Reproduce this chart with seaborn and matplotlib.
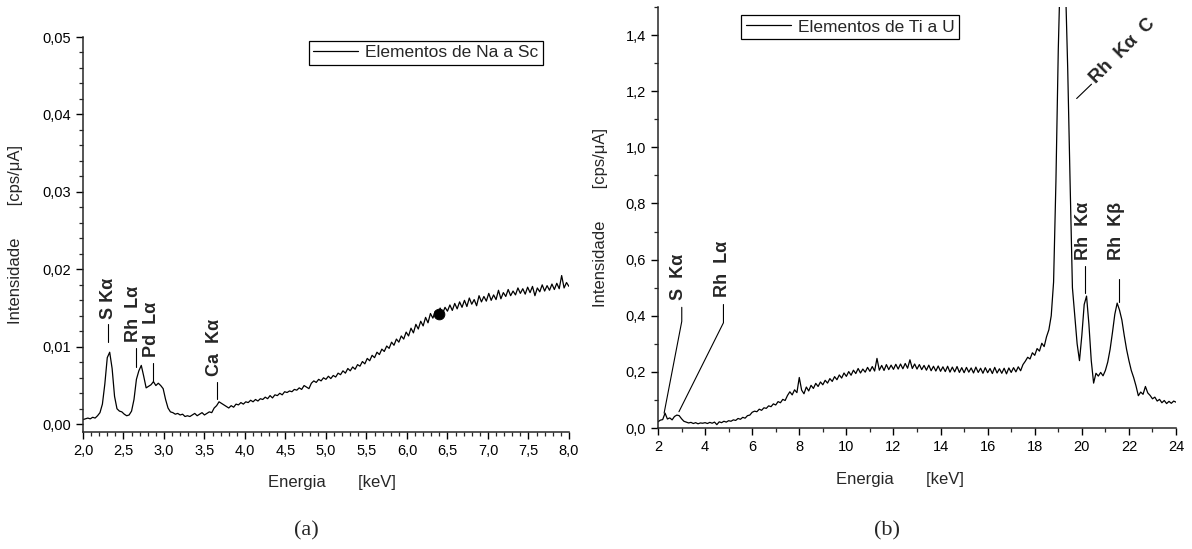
import numpy as np
import pandas as pd
import matplotlib
matplotlib.use("Agg")
import matplotlib.pyplot as plt
from matplotlib.ticker import MultipleLocator, FuncFormatter
import seaborn as sns

# ---------------- data: panel (a), Na..Sc, 2.00..8.00 keV step 0.03 ----------------
energy_a_start, energy_a_stop = 2.0, 8.0
intens_a_milli = [
    0.6, 0.7, 0.8, 0.7, 0.9, 0.8, 1.1, 1.5, 2.6, 5.2,
    8.6, 9.3, 7.2, 3.6, 2.0, 1.7, 1.6, 1.3, 1.1, 1.2,
    1.7, 3.2, 5.8, 6.9, 7.6, 6.2, 4.7, 4.9, 5.1, 5.5,
    5.0, 5.3, 5.0, 4.6, 3.2, 2.1, 1.6, 1.5, 1.3, 1.4,
    1.2, 1.3, 1.0, 1.1, 1.0, 1.2, 1.4, 1.1, 1.3, 1.5,
    1.2, 1.4, 1.6, 1.5, 2.1, 2.4, 2.9, 2.7, 2.5, 2.3,
    2.1, 2.4, 2.2, 2.6, 2.5, 2.8, 2.6, 2.9, 2.8, 3.1,
    2.9, 3.2, 3.0, 3.3, 3.2, 3.5, 3.3, 3.7, 3.4, 3.8,
    3.7, 4.0, 3.8, 4.2, 4.1, 4.3, 4.2, 4.5, 4.4, 4.7,
    4.5, 5.0, 4.8, 4.6, 5.3, 5.6, 5.4, 5.8, 5.6, 6.0,
    5.8, 6.2, 5.9, 6.3, 6.1, 6.6, 6.4, 6.9, 6.6, 7.2,
    6.9, 7.4, 7.1, 7.7, 7.5, 8.1, 7.8, 8.5, 8.2, 8.9,
    8.6, 9.3, 9.0, 9.7, 9.4, 10.1, 9.8, 10.6, 10.2, 11.0,
    10.6, 11.4, 11.0, 11.9, 11.4, 12.4, 11.8, 12.9, 12.3, 13.3,
    12.7, 13.8, 13.1, 14.3, 13.7, 14.6, 14.2, 15.0, 14.3, 15.1,
    14.6, 15.4, 14.7, 15.6, 14.9, 15.8, 15.1, 16.0, 15.2, 16.3,
    15.5, 16.1, 15.3, 16.6, 15.8, 16.5, 15.9, 16.9, 16.0, 16.7,
    16.1, 17.3, 16.2, 17.0, 16.5, 17.4, 16.6, 17.2, 16.7, 17.6,
    16.9, 17.5, 16.8, 17.7, 17.0, 17.8, 16.6, 17.6, 17.1, 18.0,
    17.2, 17.9, 17.3, 18.1, 17.4, 18.2, 17.5, 19.2, 17.6, 18.3,
    17.8,
]
dot_a_x = [6.39]
dot_a_y = [0.0143]

# ---------------- data: panel (b), Ti..U, 2.0..24.0 keV step 0.1 ----------------
energy_b_start, energy_b_stop = 2.0, 24.0
intens_b_centi = [
    2.2, 2.8, 3.0, 5.3, 3.2, 3.6, 2.9, 4.1, 4.6, 4.4,          # 2.x
    3.3, 2.4, 2.1, 1.8, 2.0, 1.6, 1.9, 1.5, 1.8, 1.7,          # 3.x
    1.9, 1.6, 2.0, 1.7, 2.1, 1.2, 2.2, 1.9, 2.4, 2.1,          # 4.x
    2.6, 2.4, 2.9, 2.7, 3.4, 3.1, 3.8, 3.5, 4.4, 4.6,          # 5.x
    5.6, 6.0, 5.8, 6.7, 6.3, 7.2, 7.0, 7.9, 7.6, 8.6,          # 6.x
    8.2, 9.4, 9.0, 10.2, 9.8, 11.6, 12.9, 11.8, 13.6, 12.6,    # 7.x
    18.0, 13.5, 12.2, 14.6, 13.2, 15.2, 14.1, 15.9, 14.8, 16.4,  # 8.x
    15.4, 17.0, 16.0, 17.6, 16.6, 18.3, 17.2, 18.9, 17.8, 19.6,  # 9.x
    18.4, 20.1, 18.8, 20.6, 19.4, 21.2, 19.6, 21.0, 19.9, 21.6,  # 10.x
    20.2, 21.9, 20.3, 24.8, 20.6, 22.3, 20.5, 22.6, 20.8, 22.4,  # 11.x
    20.9, 22.7, 21.0, 22.8, 21.1, 23.0, 21.3, 24.3, 21.2, 22.8,  # 12.x
    21.0, 22.6, 20.8, 22.3, 20.6, 22.4, 20.4, 22.0, 20.3, 22.1,  # 13.x
    20.2, 21.8, 20.1, 22.0, 19.9, 21.7, 20.0, 21.9, 19.8, 21.5,  # 14.x
    19.7, 21.6, 19.9, 21.4, 19.6, 21.7, 19.8, 21.3, 19.5, 21.5,  # 15.x
    19.7, 21.2, 19.4, 21.6, 19.6, 21.1, 19.5, 21.3, 19.3, 21.4,  # 16.x
    19.8, 21.5, 20.0, 21.8, 20.4, 22.6, 23.8, 25.2, 24.6, 26.8,  # 17.x
    25.9, 28.3, 27.4, 30.2, 29.0, 32.5, 35.0, 40.0, 52.0, 88.0,  # 18.x
    135.0, 168.0, 178.0, 160.0, 128.0, 88.0, 50.0, 40.0, 30.0, 24.0,  # 19.x
    33.0, 44.0, 47.0, 37.0, 24.0, 16.0, 19.5, 18.5, 19.8, 18.6,  # 20.x
    20.5, 23.5, 28.0, 34.0, 40.5, 44.5, 42.0, 38.5, 33.0, 28.0,  # 21.x
    24.0, 20.5, 18.0, 15.0, 11.5, 12.8, 12.0, 14.8, 12.5, 11.6,  # 22.x
    10.4, 11.0, 9.6, 10.2, 9.0, 9.8, 8.7, 9.5, 8.8, 9.6,       # 23.x
    9.2,                                                       # 24.0
]

# annotations: (label, text x, text y, leader line xs, leader line ys)
ann_a_labels = ["S K\u03b1", "Rh  L\u03b1", "Pd  L\u03b1", "Ca  K\u03b1"]
ann_a_text_x = [2.31, 2.63, 2.85, 3.63]
ann_a_text_y = [0.0136, 0.0106, 0.0087, 0.0062]
ann_a_line_x = [[2.31, 2.31], [2.66, 2.66], [2.87, 2.87], [3.66, 3.66]]
ann_a_line_y = [[0.0129, 0.0106], [0.0099, 0.0074], [0.0079, 0.0055], [0.0055, 0.0033]]

ann_b_labels = ["S  K\u03b1", "Rh  L\u03b1", "Rh  K\u03b1", "Rh  K\u03b2"]
ann_b_text_x = [2.89, 4.74, 20.06, 21.48]
ann_b_text_y = [0.455, 0.465, 0.60, 0.60]
ann_b_line_x = [[3.01, 3.01, 2.26], [4.78, 4.78, 2.89], [20.12, 20.12], [21.57, 21.57]]
ann_b_line_y = [[0.43, 0.38, 0.053], [0.44, 0.375, 0.058], [0.576, 0.48], [0.53, 0.45]]
ann_b_rot_label = "Rh  K\u03b1  C"
ann_b_rot_pos = (21.73, 1.344)
ann_b_rot_line_x = [19.78, 20.41]
ann_b_rot_line_y = [1.174, 1.225]

# ---------------- frames ----------------
ea = np.linspace(energy_a_start, energy_a_stop, len(intens_a_milli))
df_a = pd.DataFrame({"Energia": ea, "Int": np.array(intens_a_milli) / 1000.0})
eb = np.linspace(energy_b_start, energy_b_stop, len(intens_b_centi))
df_b = pd.DataFrame({"Energia": eb, "Int": np.array(intens_b_centi) / 100.0})

sns.set_style("ticks")
plt.rcParams["font.family"] = ["Liberation Sans", "DejaVu Sans"]
plt.rcParams["axes.linewidth"] = 1.1

fig = plt.figure(figsize=(11.92, 5.49), dpi=100)
axa = fig.add_axes([0.0696, 0.2131, 0.4077, 0.7195])
axb = fig.add_axes([0.5520, 0.2204, 0.4346, 0.7668])

sns.lineplot(data=df_a, x="Energia", y="Int", ax=axa, color="black", lw=0.9,
             label="Elementos de Na a Sc", sort=False)
sns.scatterplot(x=dot_a_x, y=dot_a_y, ax=axa, color="black", s=60, zorder=5,
                edgecolor="black", legend=False)
sns.lineplot(data=df_b, x="Energia", y="Int", ax=axb, color="black", lw=0.9,
             label="Elementos de Ti a U", sort=False)

comma = lambda fmt: FuncFormatter(lambda v, p: (fmt % v).replace(".", ","))

for ax in (axa, axb):
    for s in ("top", "right"):
        ax.spines[s].set_visible(False)
    ax.tick_params(which="major", direction="out", length=5, width=1.0,
                   labelsize=10.5, colors="black")
    ax.tick_params(which="minor", direction="out", length=3, width=0.9)

axa.set_xlim(2.0, 8.0)
axa.set_ylim(-0.001, 0.05)
axa.xaxis.set_major_locator(MultipleLocator(0.5))
axa.xaxis.set_minor_locator(MultipleLocator(0.1))
axa.yaxis.set_major_locator(MultipleLocator(0.01))
axa.yaxis.set_minor_locator(MultipleLocator(0.002))
axa.xaxis.set_major_formatter(comma("%.1f"))
axa.yaxis.set_major_formatter(comma("%.2f"))

axb.set_xlim(2.0, 24.0)
axb.set_ylim(0.0, 1.5)
axb.xaxis.set_major_locator(MultipleLocator(2))
axb.xaxis.set_minor_locator(MultipleLocator(1))
axb.yaxis.set_major_locator(MultipleLocator(0.2))
axb.yaxis.set_minor_locator(MultipleLocator(0.1))
axb.xaxis.set_major_formatter(FuncFormatter(lambda v, p: "%d" % round(v)))
axb.yaxis.set_major_formatter(comma("%.1f"))

for ax in (axa, axb):
    ax.set_xlabel("Energia       [keV]", fontsize=12)
    ax.set_ylabel("Intensidade       [cps/\u03bcA]", fontsize=12)
axa.xaxis.set_label_coords(0.512, -0.109)
axa.yaxis.set_label_coords(-0.123, 0.5)
axb.xaxis.set_label_coords(0.467, -0.1045)
axb.yaxis.set_label_coords(-0.0965, 0.5)

lega = axa.legend(loc="upper right", bbox_to_anchor=(0.9465, 0.9906), fontsize=12.5,
                  frameon=True, fancybox=False, borderaxespad=0, handlelength=2.6,
                  borderpad=0.25, handletextpad=0.4)
legb = axb.legend(loc="upper right", bbox_to_anchor=(0.581, 0.981), fontsize=12.5,
                  frameon=True, fancybox=False, borderaxespad=0, handlelength=2.6,
                  borderpad=0.25, handletextpad=0.4)
for lg in (lega, legb):
    fr = lg.get_frame()
    fr.set_edgecolor("black")
    fr.set_linewidth(0.9)
    fr.set_alpha(1)
    for ln in lg.get_lines():
        ln.set_linewidth(0.9)

for lab, tx, ty, lx, ly in zip(ann_a_labels, ann_a_text_x, ann_a_text_y, ann_a_line_x, ann_a_line_y):
    axa.text(tx, ty, lab, rotation=90, ha="center", va="bottom", fontsize=13,
             fontweight="bold")
    axa.plot(lx, ly, color="black", lw=0.8)

for lab, tx, ty, lx, ly in zip(ann_b_labels, ann_b_text_x, ann_b_text_y, ann_b_line_x, ann_b_line_y):
    axb.text(tx, ty, lab, rotation=90, ha="center", va="bottom", fontsize=13,
             fontweight="bold")
    axb.plot(lx, ly, color="black", lw=0.8)
axb.text(ann_b_rot_pos[0], ann_b_rot_pos[1], ann_b_rot_label, rotation=45,
         ha="center", va="center", fontsize=13.5, fontweight="bold",
         rotation_mode="anchor")
axb.plot(ann_b_rot_line_x, ann_b_rot_line_y, color="black", lw=0.8)

fig.text(306.7 / 1192, 1 - 531 / 549, "(a)", ha="center", va="center", fontsize=16,
         family=["Liberation Serif", "DejaVu Serif"])
fig.text(886.7 / 1192, 1 - 531 / 549, "(b)", ha="center", va="center", fontsize=16,
         family=["Liberation Serif", "DejaVu Serif"])

fig.savefig("out.png", dpi=100, facecolor="white")
